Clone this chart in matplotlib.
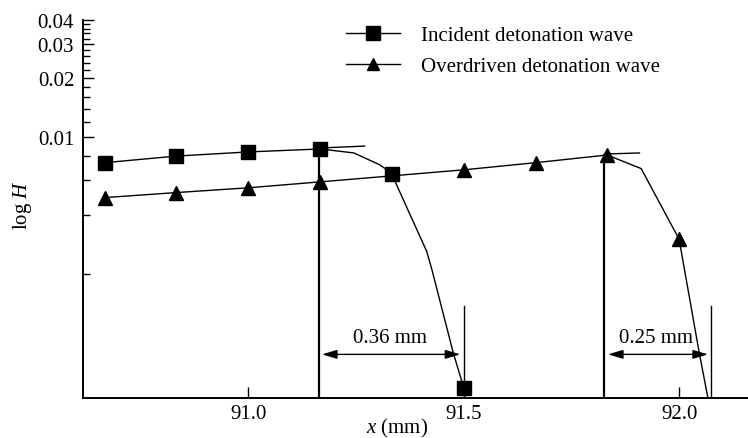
import matplotlib
matplotlib.use("Agg")
import matplotlib.pyplot as plt
from matplotlib.ticker import FixedLocator, FixedFormatter, NullFormatter

# marker positions (x in mm, H values)
inc_x = [90.667, 90.833, 91.0, 91.167, 91.333, 91.5]
inc_h = [0.0074, 0.0080, 0.0084, 0.0087, 0.0065, 0.00052]
ovd_x = [90.667, 90.833, 91.0, 91.167, 91.5, 91.667, 91.833, 92.0]
ovd_h = [0.0049, 0.0052, 0.0055, 0.0059, 0.0068, 0.0074, 0.0081, 0.0030]

# full profiles (front drop-off)
inc_line_x = [90.667, 90.833, 91.0, 91.167, 91.245, 91.306, 91.333, 91.341, 91.414, 91.426, 91.476, 91.5]
inc_line_h = [0.0074, 0.0080, 0.0084, 0.0087, 0.0083, 0.0072, 0.0065, 0.0059, 0.0026, 0.0021, 0.00078, 0.00052]
ovd_line_x = [90.667, 90.833, 91.0, 91.167, 91.5, 91.667, 91.833, 91.912, 92.0, 92.047, 92.067]
ovd_line_h = [0.0049, 0.0052, 0.0055, 0.0059, 0.0068, 0.0074, 0.0081, 0.0069, 0.0030, 0.00078, 0.00046]

# short overlapping tails
inc_tail_x = [91.167, 91.27]
inc_tail_h = [0.0088, 0.0090]
ovd_tail_x = [91.833, 91.908]
ovd_tail_h = [0.0082, 0.0083]

# front markers and dimension lines
front_x = [91.164, 91.826]
front_h = [0.0087, 0.0081]
end_x = [91.501, 92.074]
end_top = 0.00136
dim_from = [91.171, 91.835]
dim_to = [91.492, 92.067]
dim_h = 0.00077
dim_text = ["0.36 mm", "0.25 mm"]
dim_text_x = [91.330, 91.947]
dim_text_h = 0.00094

y_major = [0.01, 0.02, 0.03, 0.04]
y_major_lbl = ["0.01", "0.02", "0.03", "0.04"]
y_minor = [0.002, 0.004, 0.006, 0.008, 0.012, 0.014, 0.016, 0.018,
           0.022, 0.024, 0.026, 0.028, 0.032, 0.034, 0.036, 0.038]
x_major = [91.0, 91.5, 92.0]

plt.rcParams.update({
    "font.family": "Liberation Serif", "font.size": 15,
    "mathtext.fontset": "custom", "mathtext.rm": "Liberation Serif",
    "mathtext.it": "Liberation Serif:italic",
})

fig = plt.figure(figsize=(7.48, 4.39), dpi=100)
ax = fig.add_axes([0.1103, 0.0911, 0.8897, 0.8617])
ymin = 0.00046

ax.plot(inc_line_x, inc_line_h, color="black", lw=1.0)
ax.plot(inc_tail_x, inc_tail_h, color="black", lw=1.0)
ax.plot(ovd_line_x, ovd_line_h, color="black", lw=1.0)
ax.plot(ovd_tail_x, ovd_tail_h, color="black", lw=1.0)
ax.plot(inc_x, inc_h, "s", color="black", ms=10, zorder=4)
ax.plot(ovd_x, ovd_h, "^", color="black", ms=10, zorder=4)

# legend proxies
ax.plot([], [], "-s", color="black", lw=1.0, ms=10, label="Incident detonation wave")
ax.plot([], [], "-^", color="black", lw=1.0, ms=9, label="Overdriven detonation wave")
ax.legend(loc="upper left", bbox_to_anchor=(0.368, 1.035), frameon=False, handlelength=2.6,
          handletextpad=1.0, labelspacing=0.55, fontsize=15)

for xv, hv in zip(front_x, front_h):
    ax.plot([xv, xv], [ymin, hv], color="black", lw=1.6)
for xv in end_x:
    ax.plot([xv, xv], [ymin, end_top], color="black", lw=1.0)
for a, b, t, tx in zip(dim_from, dim_to, dim_text, dim_text_x):
    ax.annotate("", xy=(b, dim_h), xytext=(a, dim_h),
                arrowprops=dict(arrowstyle="<|-|>,head_length=0.6,head_width=0.18",
                                color="black", lw=1.0, shrinkA=0, shrinkB=0))
    ax.text(tx, dim_text_h, t, ha="center", va="center", fontsize=15)

ax.set_yscale("log")
ax.set_ylim(ymin, 0.04)
ax.set_xlim(90.615, 92.16)
ax.yaxis.set_major_locator(FixedLocator(y_major))
ax.yaxis.set_major_formatter(FixedFormatter(y_major_lbl))
ax.yaxis.set_minor_locator(FixedLocator(y_minor))
ax.yaxis.set_minor_formatter(NullFormatter())
ax.set_xticks(x_major)
ax.set_xticklabels(["91.0", "91.5", "92.0"])
ax.tick_params(direction="in", length=8, width=1.0, pad=6)
ax.tick_params(which="minor", direction="in", length=5, width=1.0)
ax.tick_params(axis="x", pad=4)

for s in ["top", "right"]:
    ax.spines[s].set_visible(False)
for s in ["left", "bottom"]:
    ax.spines[s].set_linewidth(1.4)

ax.set_xlabel(r"$x$ (mm)", fontsize=15)
ax.xaxis.set_label_coords(0.473, -0.048)
ax.set_ylabel(r"$\mathrm{log}\ H$", fontsize=15)
ax.yaxis.set_label_coords(-0.073, 0.512)

fig.savefig("out.png", dpi=100)
